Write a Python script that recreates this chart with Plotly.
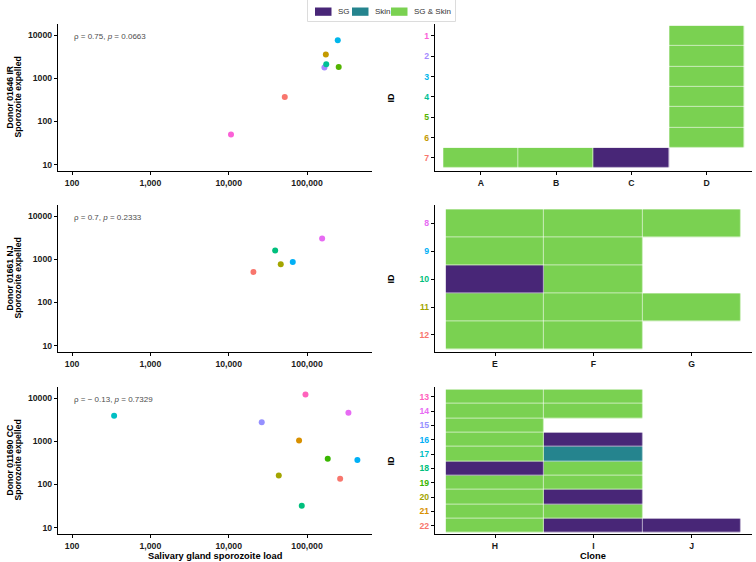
import plotly.graph_objects as go
import numpy as np

FONT = "Liberation Sans, Arial, sans-serif"
W, H = 756, 562

# ---------------- scatter data ----------------
ids_1 = [1, 2, 3, 4, 5, 6, 7]
sg_load_1 = [10700, 167000, 247000, 176000, 254000, 174000, 52000]
expelled_1 = [50, 1780, 7650, 2120, 1830, 3550, 367]
colors_1 = ["#FB61D7", "#A58AFF", "#00B6EB", "#00C094", "#53B400", "#C49A00", "#F8766D"]

ids_2 = [8, 9, 10, 11, 12]
sg_load_2 = [156000, 65800, 39200, 46200, 20700]
expelled_2 = [3060, 870, 1600, 767, 508]
colors_2 = ["#E76BF3", "#00B0F6", "#00BF7D", "#A3A500", "#F8766D"]

ids_3 = [13, 14, 15, 16, 17, 18, 19, 20, 21, 22]
sg_load_3 = [95600, 338000, 26400, 440000, 344, 85700, 184000, 43600, 79200, 265000]
expelled_3 = [12150, 4610, 2750, 367, 3930, 32, 396, 162, 1045, 135]
colors_3 = ["#FF62BC", "#E76BF3", "#9590FF", "#00B0F6", "#00BFC4", "#00BF7D",
            "#39B600", "#A3A500", "#D89000", "#F8766D"]

donor_labels = ["Donor 01646 IR", "Donor 01661 NJ", "Donor 011690 CC"]
y_title_line2 = "Sporozoite expelled"
stat_labels = ["ρ = 0.75, <i>p</i> = 0.0663", "ρ = 0.7, <i>p</i> = 0.2333",
               "ρ = − 0.13, <i>p</i> = 0.7329"]

x_tickvals = [100, 1000, 10000, 100000]
x_ticktext = ["100", "1,000", "10,000", "100,000"]
y_tickvals = [10, 100, 1000, 10000]
y_ticktext = ["10", "100", "1000", "10000"]

# ---------------- heatmap data ----------------
status_names = ["SG", "Skin", "SG & Skin"]
status_colors = ["#482677", "#25848E", "#7AD151"]

clones_1 = ["A", "B", "C", "D"]
tile_id_1 = [1, 2, 3, 4, 5, 6, 7, 7, 7]
tile_clone_1 = ["D", "D", "D", "D", "D", "D", "A", "B", "C"]
tile_status_1 = ["SG & Skin"] * 8 + ["SG"]

clones_2 = ["E", "F", "G"]
tile_id_2 = [8, 8, 8, 9, 9, 10, 10, 11, 11, 11, 12, 12]
tile_clone_2 = ["E", "F", "G", "E", "F", "E", "F", "E", "F", "G", "E", "F"]
tile_status_2 = ["SG & Skin", "SG & Skin", "SG & Skin", "SG & Skin", "SG & Skin",
                 "SG", "SG & Skin", "SG & Skin", "SG & Skin", "SG & Skin",
                 "SG & Skin", "SG & Skin"]

clones_3 = ["H", "I", "J"]
tile_id_3 = [13, 13, 14, 14, 15, 16, 16, 17, 17, 18, 18, 19, 19, 20, 20, 21, 21, 22, 22, 22]
tile_clone_3 = ["H", "I", "H", "I", "H", "H", "I", "H", "I", "H", "I", "H", "I",
                "H", "I", "H", "I", "H", "I", "J"]
tile_status_3 = ["SG & Skin", "SG & Skin", "SG & Skin", "SG & Skin", "SG & Skin",
                 "SG & Skin", "SG", "SG & Skin", "Skin", "SG", "SG & Skin",
                 "SG & Skin", "SG & Skin", "SG & Skin", "SG", "SG & Skin", "SG & Skin",
                 "SG & Skin", "SG", "SG"]

panels = [
    (ids_1, sg_load_1, expelled_1, colors_1, clones_1, tile_id_1, tile_clone_1, tile_status_1),
    (ids_2, sg_load_2, expelled_2, colors_2, clones_2, tile_id_2, tile_clone_2, tile_status_2),
    (ids_3, sg_load_3, expelled_3, colors_3, clones_3, tile_id_3, tile_clone_3, tile_status_3),
]


def px_x(v):
    return v / W


def px_y(v):
    return 1 - v / H


# layout geometry (paper fractions)
y_domains = [[0.6957, 0.9573], [0.3737, 0.6352], [0.0498, 0.3114]]
left_dom = [58 / W, 372 / W]
right_dom = [435 / W, 751.7 / W]
hm_x_ranges = [[-0.61, 3.6], [-0.61, 2.61], [-0.61, 2.61]]
hm_y_ranges = [[6.65, -0.59], [4.61, -0.656], [9.58, -0.68]]

fig = go.Figure()
layout = {}
annotations = []
shapes = []

colorscale = [[0, status_colors[0]], [1 / 3, status_colors[0]],
              [1 / 3, status_colors[1]], [2 / 3, status_colors[1]],
              [2 / 3, status_colors[2]], [1, status_colors[2]]]

axis_common = dict(showgrid=False, zeroline=False, showline=True, linecolor="black",
                   linewidth=1.3, ticks="outside", ticklen=3, tickcolor="black",
                   tickfont=dict(family=FONT, size=8.7, color="#1a1a1a", weight="bold"))

for i, (ids, load, exp_, cols, clones, t_id, t_cl, t_st) in enumerate(panels):
    sx = 2 * i + 1
    hx = 2 * i + 2
    sxn = "x" if sx == 1 else f"x{sx}"
    syn = "y" if sx == 1 else f"y{sx}"
    hxn = f"x{hx}"
    hyn = f"y{hx}"

    fig.add_trace(go.Scatter(x=load, y=exp_, mode="markers",
                             marker=dict(color=cols, size=6),
                             xaxis=sxn, yaxis=syn, showlegend=False,
                             text=[str(v) for v in ids]))

    # heatmap matrix
    zmat = [[None for _ in clones] for _ in ids]
    for tid, tc, ts in zip(t_id, t_cl, t_st):
        zmat[ids.index(tid)][clones.index(tc)] = status_names.index(ts)
    fig.add_trace(go.Heatmap(z=zmat, x=clones, y=[str(v) for v in ids],
                             colorscale=colorscale, zmin=0, zmax=2, showscale=False,
                             xgap=0.6, ygap=0.6, xaxis=hxn, yaxis=hyn,
                             hoverongaps=False, showlegend=False))

    sk = "" if sx == 1 else str(sx)
    layout[f"xaxis{sk}"] = dict(axis_common, domain=left_dom, anchor=syn, type="log",
                                range=[1.82, 5.83], tickmode="array",
                                tickvals=x_tickvals, ticktext=x_ticktext)
    layout[f"yaxis{sk}"] = dict(axis_common, domain=y_domains[i], anchor=sxn, type="log",
                                range=[0.85, 4.26], tickmode="array",
                                tickvals=y_tickvals, ticktext=y_ticktext)
    layout[f"xaxis{hx}"] = dict(axis_common, domain=right_dom, anchor=hyn, type="category",
                                categoryorder="array", categoryarray=clones,
                                range=hm_x_ranges[i])
    layout[f"yaxis{hx}"] = dict(axis_common, domain=y_domains[i], anchor=hxn, type="category",
                                categoryorder="array", categoryarray=[str(v) for v in ids],
                                range=hm_y_ranges[i], tickmode="array",
                                tickvals=[str(v) for v in ids],
                                ticktext=[f"<span style='color:{c}'>{v}</span>"
                                          for v, c in zip(ids, cols)])

    ymid = (y_domains[i][0] + y_domains[i][1]) / 2
    annotations.append(dict(xref="paper", yref="paper", x=px_x(10), y=ymid,
                            xanchor="center", yanchor="middle",
                            text=f"<b>{donor_labels[i]}</b>",
                            textangle=-90, showarrow=False,
                            font=dict(family=FONT, size=8.6, color="black")))
    annotations.append(dict(xref="paper", yref="paper", x=px_x(18), y=ymid,
                            xanchor="center", yanchor="middle",
                            text=f"<b>{y_title_line2}</b>",
                            textangle=-90, showarrow=False,
                            font=dict(family=FONT, size=8.6, color="black")))
    annotations.append(dict(xref="paper", yref="paper", x=px_x(391), y=ymid,
                            xanchor="center", yanchor="middle",
                            text="<b>ID</b>", textangle=-90, showarrow=False,
                            font=dict(family=FONT, size=9, color="black")))
    annotations.append(dict(xref=f"{sxn} domain", yref=f"{syn} domain", x=0.045, y=0.915,
                            xanchor="left", yanchor="middle", text=stat_labels[i],
                            showarrow=False, font=dict(family=FONT, size=8, color="#4d4d4d")))

annotations.append(dict(xref="paper", yref="paper", x=px_x(215), y=px_y(556),
                        xanchor="center", yanchor="middle",
                        text="<b>Salivary gland sporozoite load</b>", showarrow=False,
                        font=dict(family=FONT, size=9.3, color="black")))
annotations.append(dict(xref="paper", yref="paper", x=px_x(593), y=px_y(556),
                        xanchor="center", yanchor="middle",
                        text="<b>Clone</b>", showarrow=False,
                        font=dict(family=FONT, size=9.3, color="black")))

# ---- legend (drawn as a key box at the top centre) ----
shapes.append(dict(type="rect", xref="paper", yref="paper",
                   x0=px_x(307.5), x1=px_x(455.5), y0=px_y(21.5), y1=px_y(-1),
                   line=dict(color="#dcdcdc", width=1), fillcolor="white", layer="above"))
swatch_left = [315, 352, 391]
text_left = [336, 372.5, 411.5]
for name, col, sl, tl in zip(status_names, status_colors, swatch_left, text_left):
    shapes.append(dict(type="rect", xref="paper", yref="paper",
                       x0=px_x(sl), x1=px_x(sl + 16.5), y0=px_y(15.8), y1=px_y(7.5),
                       line=dict(width=0), fillcolor=col, layer="above"))
    annotations.append(dict(xref="paper", yref="paper", x=px_x(tl), y=px_y(11.7),
                            xanchor="left", yanchor="middle", text=name, showarrow=False,
                            font=dict(family=FONT, size=8, color="#333333")))

fig.update_layout(**layout)
fig.update_layout(
    width=W, height=H, margin=dict(l=0, r=0, t=0, b=0, autoexpand=False),
    paper_bgcolor="white", plot_bgcolor="white",
    font=dict(family=FONT, size=9, color="black"),
    annotations=annotations, shapes=shapes, showlegend=False,
)

fig.write_html("out.html", config={"displayModeBar": False},
               post_script="document.body.style.margin='0';document.body.style.overflow='hidden';")
